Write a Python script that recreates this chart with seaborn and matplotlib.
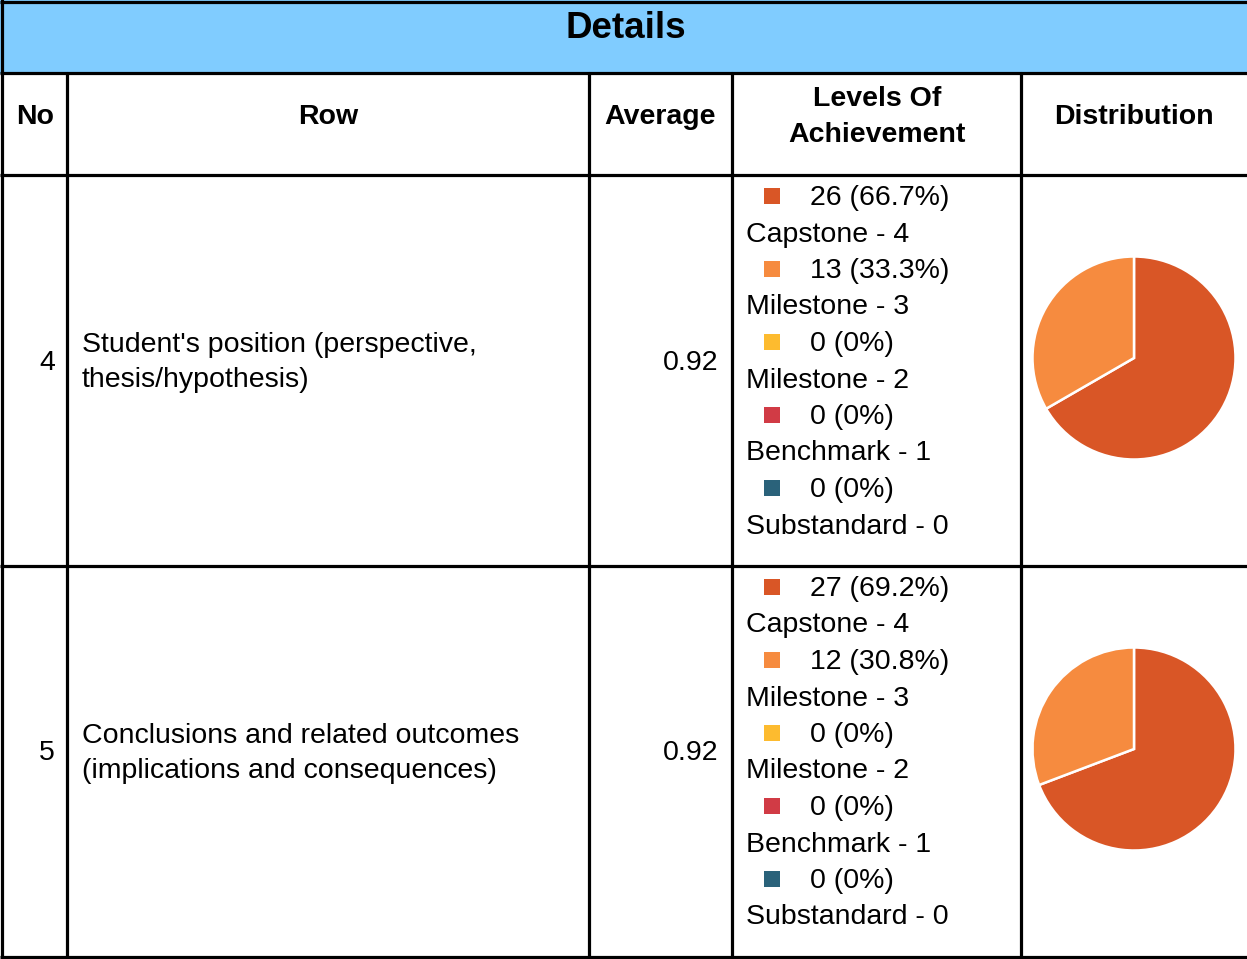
import numpy as np
import matplotlib
matplotlib.use("Agg")
import matplotlib.pyplot as plt
import seaborn as sns

# table content
title = "Details"
col_headers = ["No", "Row", "Average", "Levels Of\nAchievement", "Distribution"]
row_numbers = ["4", "5"]
row_names = ["Student's position (perspective,\nthesis/hypothesis)",
             "Conclusions and related outcomes\n(implications and consequences)"]
averages = [0.92, 0.92]
levels = ["Capstone - 4", "Milestone - 3", "Milestone - 2", "Benchmark - 1", "Substandard - 0"]
level_colors = ["#D95626", "#F68B3F", "#FDBB2F", "#D13B45", "#2A627A"]
counts_row4 = [26, 13, 0, 0, 0]
counts_row5 = [27, 12, 0, 0, 0]
all_counts = [counts_row4, counts_row5]

sns.set_theme(style="white")
plt.rcParams['font.family'] = ['Liberation Sans', 'DejaVu Sans']
plt.rcParams['text.color'] = 'black'

W, H = 1247, 959
fig = plt.figure(figsize=(W / 100, H / 100), dpi=100)
ax = fig.add_axes([0, 0, 1, 1])
ax.set_xlim(0, W)
ax.set_ylim(H, 0)
ax.axis('off')

fs = 20.5
lsp = 1.46
lw = 2.3
col_x = [2, 67, 589, 732, 1021]
header_bottom = 73
colhead_bottom = 175
row_h = 391
table_bottom = colhead_bottom + 2 * row_h

# title band
ax.add_patch(plt.Rectangle((0, 0), W, header_bottom, color="#80CCFF", zorder=0))
ax.text(626, 29, title, ha='center', va='center', fontsize=26.5, fontweight='bold')

# horizontal lines
for y in [1.5, header_bottom, colhead_bottom, colhead_bottom + row_h, table_bottom]:
    ax.plot([0, W], [y, y], color='black', lw=lw, solid_capstyle='butt')
# vertical lines
ax.plot([col_x[0], col_x[0]], [0, table_bottom], color='black', lw=lw)
for x in col_x[1:]:
    ax.plot([x, x], [header_bottom, table_bottom], color='black', lw=lw)

# column headers
col_centers = [35, 328, 660, 877, 1134]
for cx, lab in zip(col_centers, col_headers):
    ax.text(cx, 117, lab, ha='center', va='center', fontsize=fs, fontweight='bold',
            linespacing=lsp)

line_step = 36.5
for i in range(2):
    top = colhead_bottom + i * row_h
    mid = top + row_h / 2 - 8
    ax.text(47, mid, row_numbers[i], ha='center', va='center', fontsize=fs)
    ax.text(82, mid, row_names[i], ha='left', va='center', fontsize=fs, linespacing=lsp)
    ax.text(718, mid, f"{averages[i]:.2f}", ha='right', va='center', fontsize=fs)

    counts = np.array(all_counts[i])
    total = counts.sum()
    y0 = top + 23
    for j, (lev, c, col) in enumerate(zip(levels, counts, level_colors)):
        yv = y0 + 2 * j * line_step
        pct = 100 * c / total
        pct_txt = f"{pct:.1f}%" if c > 0 else "0%"
        ax.add_patch(plt.Rectangle((764, yv - 10), 16, 16, color=col, lw=0))
        ax.text(810, yv, f"{c} ({pct_txt})", ha='left', va='center', fontsize=fs)
        ax.text(746, yv + line_step, lev, ha='left', va='center', fontsize=fs)

    # pie
    cy = top + 183
    r = 102
    pax = fig.add_axes([(1134 - r) / W, (H - cy - r) / H, 2 * r / W, 2 * r / H])
    mask = counts > 0
    pax.pie(counts[mask], colors=np.array(level_colors)[mask], startangle=90,
            counterclock=False, radius=1,
            wedgeprops=dict(edgecolor='white', linewidth=1.8))
    pax.set_xlim(-1.005, 1.005)
    pax.set_ylim(-1.005, 1.005)
    pax.set_aspect('equal')

fig.savefig("out.png", dpi=100)
